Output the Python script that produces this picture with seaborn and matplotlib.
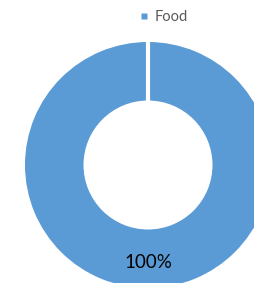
import matplotlib
matplotlib.use('Agg')
import matplotlib.pyplot as plt
import seaborn as sns
from matplotlib.lines import Line2D

# Data
categories = ['Food']
values = [100]
colors = ['#5B9BD5']

sns.set_theme(style='white')
plt.rcParams['font.family'] = ['Lato', 'DejaVu Sans']

fig = plt.figure(figsize=(2.54, 2.83), dpi=100)
ax = fig.add_axes([0, 0, 1, 1])

# Donut chart, partly cut off at the right and bottom
wedges, texts, autotexts = ax.pie(
    values, colors=colors, startangle=90, counterclock=False,
    center=(148, 118), radius=123, autopct='%1.0f%%', pctdistance=0.79,
    wedgeprops=dict(width=58.5, linewidth=0),
    textprops=dict(color='black', fontsize=13.5),
)

# white separator where the slice starts (12 o'clock)
w = wedges[0]
cx, cy = w.center
ax.plot([cx, cx], [cy + w.r - w.width - 1, cy + w.r + 1], color='white',
        linewidth=3, solid_capstyle='butt')

ax.set_xlim(0, 254)
ax.set_ylim(0, 283)
ax.set_aspect('equal', adjustable='box')
ax.axis('off')

# Legend at the top
handles = [Line2D([0], [0], marker='s', color='none', markerfacecolor=c,
                  markeredgecolor='none', markersize=4) for c in colors]
leg = fig.legend(handles, categories, loc='center', bbox_to_anchor=(0.645, 0.94),
                 frameon=False, fontsize=10.5, handlelength=0.6, handletextpad=0.4,
                 borderpad=0)
for t in leg.get_texts():
    t.set_color('#595959')

plt.savefig('out.png', dpi=100)
plt.close()
